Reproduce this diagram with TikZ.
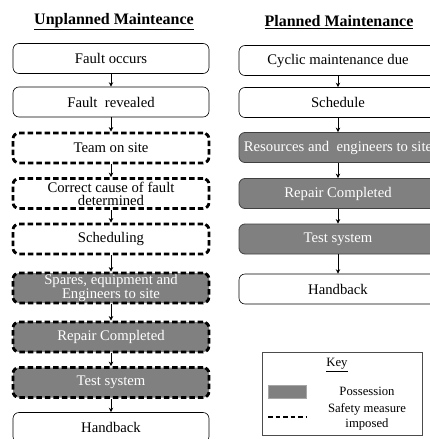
\documentclass[tikz,border=0pt]{standalone}
\usepackage{fontspec}
\setmainfont{Liberation Serif}
\usetikzlibrary{arrows.meta}
\definecolor{poss}{RGB}{128,128,128}
\begin{document}
\begin{tikzpicture}[x=1pt,y=-1pt,
  box/.style={draw=black, rounded corners=6pt, minimum height=30pt, inner sep=0pt,
    align=center, font=\fontsize{14.7}{13.2}\selectfont, line width=0.6pt},
  lbox/.style={box, minimum width=196pt},
  rbox/.style={box, minimum width=198pt},
  safe/.style={line width=2.8pt, dash pattern=on 5.5pt off 3pt},
  possbox/.style={fill=poss, text=white},
  rposs/.style={possbox, draw=black!75, line width=0.8pt},
  flow/.style={-{Stealth[length=4.5pt,width=4.5pt]}, line width=0.7pt},
  title/.style={font=\fontsize{16}{18}\selectfont\bfseries},
  keytext/.style={font=\fontsize{12.7}{13}\selectfont, align=center}]
\useasboundingbox (0,0) rectangle (430,439);
\clip (0,0) rectangle (430,439);
\fill[white] (0,0) rectangle (430,439);

% titles
\node[title] (t1) at (114,22) {\underline{Unplanned Mainteance}};
\node[title] (t2) at (339,22) {\underline{Planned Maintenance}};

% left column
\node[lbox] (a1) at (111,58.5) {Fault occurs};
\node[lbox] (a2) at (111,102) {Fault\ \ revealed};
\node[lbox, safe] (a3) at (111,148) {Team on site};
\node[lbox, safe] (a4) at (111,193.5) {Correct cause of fault\\determined};
\node[lbox, safe] (a5) at (111,239) {Scheduling};
\node[lbox, safe, possbox] (a6) at (111,288) {Spares, equipment and\\Engineers to site};
\node[lbox, safe, possbox] (a7) at (111,337) {Repair Completed};
\node[lbox, safe, possbox] (a8) at (111,382.5) {Test system};
\node[lbox] (a9) at (111,427.5) {Handback};

\foreach \i/\j in {a1/a2,a2/a3,a3/a4,a4/a5,a5/a6,a6/a7,a7/a8,a8/a9}
  \draw[flow] (\i.south) -- (\j.north);

% right column
\node[rbox] (b1) at (338,60.5) {Cyclic maintenance due};
\node[rbox] (b2) at (338,102.5) {Schedule};
\node[rbox, rposs] (b3) at (338,147.5) {Resources and\ \ engineers to site};
\node[rbox, rposs] (b4) at (338,193.5) {Repair Completed};
\node[rbox, rposs] (b5) at (338,239) {Test system};
\node[rbox] (b6) at (338,289) {Handback};

\foreach \i/\j in {b1/b2,b2/b3,b3/b4,b4/b5,b5/b6}
  \draw[flow] (\i.south) -- (\j.north);

% key
\draw[draw=black!70, line width=0.8pt] (262,352) rectangle (422,435);
\node[keytext] (k) at (337,365) {\underline{Key}};
\draw[fill=poss, draw=black!35, line width=0.6pt] (268,385) rectangle (306,398);
\node[keytext] (kp) at (367,391) {Possession};
\coordinate (ds) at (268,417);
\coordinate (de) at (306,417);
\draw[line width=2.8pt, dash pattern=on 4.5pt off 3pt] (ds) -- (de);
\node[keytext, font=\fontsize{12.7}{15.5}\selectfont] (ks) at (367,417) {Safety measure\\imposed};
\end{tikzpicture}
\end{document}
